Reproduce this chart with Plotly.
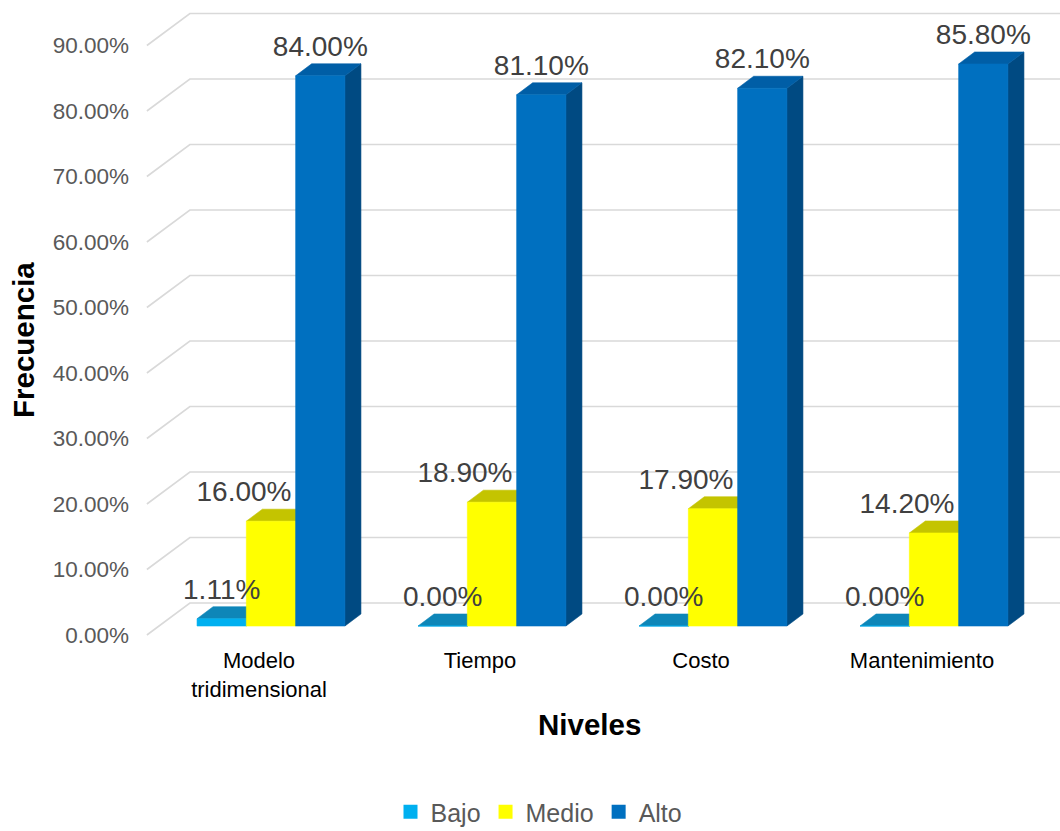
import plotly.graph_objects as go

# ---- data -------------------------------------------------------------
categories = ["Modelo<br>tridimensional", "Tiempo", "Costo", "Mantenimiento"]
series_names = ["Bajo", "Medio", "Alto"]
bajo = [1.11, 0.00, 0.00, 0.00]
medio = [16.00, 18.90, 17.90, 14.20]
alto = [84.00, 81.10, 82.10, 85.80]
y_ticks = [0, 10, 20, 30, 40, 50, 60, 70, 80, 90]
y_tick_labels = ["0.00%", "10.00%", "20.00%", "30.00%", "40.00%",
                 "50.00%", "60.00%", "70.00%", "80.00%", "90.00%"]

series_values = [bajo, medio, alto]

# ---- styling ----------------------------------------------------------
FONT = "Liberation Sans, Arial, sans-serif"
front_colors = ["#00B0F0", "#FFFF00", "#0070C0"]
top_colors = ["#0E86B8", "#C4C400", "#005EA6"]
side_colors = ["#0A6E99", "#A3A300", "#004A82"]
label_shift_px = [0, -27, 0]          # horizontal nudge of the value labels
GRID_COLOR = "#D9D9D9"

# ---- page / projection geometry (pixels) ------------------------------
W, H = 1060, 831
M_L, M_R, M_T, M_B = 146, 0, 4, 190
X_ORIGIN_PX = 259      # pixel x of category 0 on the floor front edge
Y_ORIGIN_PX = 635      # pixel y of value 0 on the floor front edge
U_PX = 221.0           # pixels per category step
V_PX = 6.55            # pixels per percentage point

x_range = [(M_L - X_ORIGIN_PX) / U_PX, (W - M_R - X_ORIGIN_PX) / U_PX]
y_range = [(Y_ORIGIN_PX - (H - M_B)) / V_PX, (Y_ORIGIN_PX - M_T) / V_PX]


def depth(px_right, px_up):
    """Oblique depth offset given in pixels, returned in data units."""
    return px_right / U_PX, px_up / V_PX


FRONT = depth(12, 9)     # bar front plane
BACK = depth(28, 21)     # bar back plane
WALL = depth(43, 32)     # back wall
BAR_W = 49.3 / U_PX
DD = (BACK[0] - FRONT[0], BACK[1] - FRONT[1])
FLOOR_LEFT = x_range[0] + 0.004
LABEL_LIFT = 36 / V_PX


def px_to_paper(px, py):
    pw = W - M_L - M_R
    ph = H - M_T - M_B
    return (px - M_L) / pw, (H - M_B - py) / ph


fig = go.Figure()

# gridlines: left wall diagonal + back wall horizontal
gx, gy = [], []
for t in y_ticks:
    gx += [FLOOR_LEFT, FLOOR_LEFT + WALL[0], x_range[1] + 0.5, None]
    gy += [t, t + WALL[1], t + WALL[1], None]
fig.add_trace(go.Scatter(x=gx, y=gy, mode="lines",
                         line=dict(color=GRID_COLOR, width=1.6),
                         hoverinfo="skip", showlegend=False))

# bars as projected boxes (side, top, front per series)
for s, vals in enumerate(series_values):
    faces = {"side": ([], []), "top": ([], []), "front": ([], [])}
    for i, v in enumerate(vals):
        xl = i - 1.5 * BAR_W + s * BAR_W + FRONT[0]
        xr = xl + BAR_W
        yb = FRONT[1]
        yt = FRONT[1] + v
        fx, fy = faces["side"]
        fx += [xr, xr + DD[0], xr + DD[0], xr, xr, None]
        fy += [yb, yb + DD[1], yt + DD[1], yt, yb, None]
        fx, fy = faces["top"]
        fx += [xl, xr, xr + DD[0], xl + DD[0], xl, None]
        fy += [yt, yt, yt + DD[1], yt + DD[1], yt, None]
        fx, fy = faces["front"]
        fx += [xl, xr, xr, xl, xl, None]
        fy += [yb, yb, yt, yt, yb, None]
    for face, color in (("side", side_colors[s]), ("top", top_colors[s]),
                        ("front", front_colors[s])):
        fx, fy = faces[face]
        fig.add_trace(go.Scatter(x=fx, y=fy, mode="lines", fill="toself",
                                 fillcolor=color,
                                 line=dict(color=color, width=0.6),
                                 hoverinfo="skip", showlegend=False))

# value labels
for s, vals in enumerate(series_values):
    lx = [i - 1.5 * BAR_W + (s + 0.5) * BAR_W + FRONT[0] + label_shift_px[s] / U_PX
          for i in range(len(vals))]
    ly = [v + LABEL_LIFT for v in vals]
    fig.add_trace(go.Scatter(x=lx, y=ly, mode="text",
                             text=[f"{v:.2f}%" for v in vals],
                             textposition="middle center",
                             textfont=dict(family=FONT, size=28, color="#404040"),
                             cliponaxis=False, hoverinfo="skip", showlegend=False))

# legend entries
for s, name in enumerate(series_names):
    fig.add_trace(go.Scatter(x=[None], y=[None], mode="markers", name=name,
                             marker=dict(symbol="square", size=14,
                                         color=front_colors[s])))

nx, ny = px_to_paper(589, 724)
fx_, fy_ = px_to_paper(23, 340)
lgx, lgy = px_to_paper(539, 812)

fig.update_layout(
    width=W, height=H,
    margin=dict(l=M_L, r=M_R, t=M_T, b=M_B, autoexpand=False),
    paper_bgcolor="white", plot_bgcolor="white",
    font=dict(family=FONT),
    xaxis=dict(range=x_range, tickmode="array", tickvals=list(range(len(categories))),
               ticktext=categories, showgrid=False, zeroline=False, showline=False,
               ticks="", ticklabelstandoff=4, automargin=False,
               tickfont=dict(family=FONT, size=22, color="#000000")),
    yaxis=dict(range=y_range, tickmode="array", tickvals=y_ticks,
               ticktext=y_tick_labels, showgrid=False, zeroline=False, showline=False,
               ticks="", ticklabelstandoff=16, automargin=False,
               tickfont=dict(family=FONT, size=22.5, color="#595959")),
    legend=dict(orientation="h", x=lgx, y=lgy, xanchor="center", yanchor="middle",
                font=dict(family=FONT, size=25, color="#595959"),
                bgcolor="rgba(0,0,0,0)", borderwidth=0),
    annotations=[
        dict(text="<b>Niveles</b>", x=nx, y=ny, xref="paper", yref="paper",
             xanchor="center", yanchor="middle", showarrow=False,
             font=dict(family=FONT, size=29.5, color="#000000")),
        dict(text="<b>Frecuencia</b>", x=fx_, y=fy_, xref="paper", yref="paper",
             xanchor="center", yanchor="middle", showarrow=False, textangle=-90,
             font=dict(family=FONT, size=29.5, color="#000000")),
    ],
)

fig.write_html("out.html")
